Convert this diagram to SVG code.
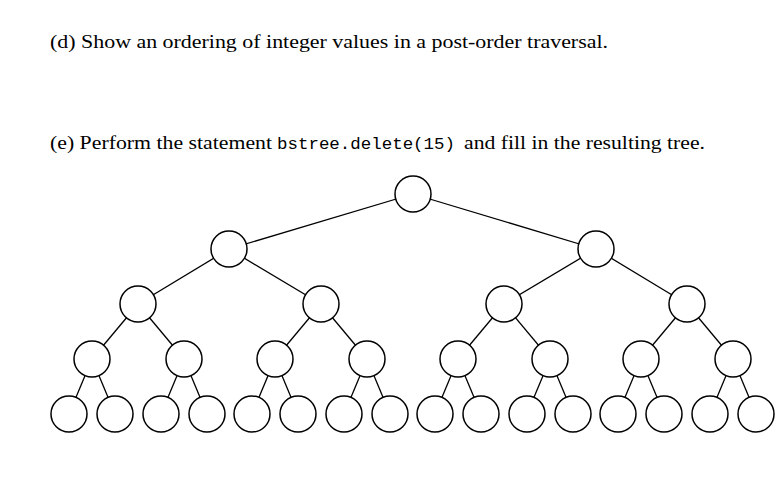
<svg xmlns="http://www.w3.org/2000/svg" width="784" height="477" viewBox="0 0 784 477">
<style>
.t{font-family:"Liberation Serif","Times New Roman",serif;font-size:18px;fill:#000}
.m{font-family:"Liberation Mono",monospace;font-size:17px}
.e line{stroke:#000;stroke-width:1.3}
circle{fill:#fff;stroke:#000;stroke-width:1.5}
</style>
<rect width="784" height="477" fill="#fff"/>
<text class="t" x="50" y="48" textLength="558" lengthAdjust="spacingAndGlyphs">(d) Show an ordering of integer values in a post-order traversal.</text>
<text class="t" x="50" y="149"><tspan textLength="222" lengthAdjust="spacingAndGlyphs">(e) Perform the statement</tspan><tspan class="m" x="277" textLength="178" lengthAdjust="spacingAndGlyphs">bstree.delete(15)</tspan><tspan x="464" textLength="241" lengthAdjust="spacingAndGlyphs">and fill in the resulting tree.</tspan></text>
<g class="e" id="edges">
<line x1="413" y1="194" x2="229" y2="249"/><line x1="413" y1="194" x2="596" y2="249"/>
<line x1="229" y1="249" x2="138" y2="304"/><line x1="229" y1="249" x2="321" y2="304"/>
<line x1="596" y1="249" x2="504" y2="304"/><line x1="596" y1="249" x2="687" y2="304"/>
<line x1="138" y1="304" x2="92" y2="359"/><line x1="138" y1="304" x2="184" y2="359"/>
<line x1="321" y1="304" x2="275" y2="359"/><line x1="321" y1="304" x2="367" y2="359"/>
<line x1="504" y1="304" x2="458" y2="359"/><line x1="504" y1="304" x2="550" y2="359"/>
<line x1="687" y1="304" x2="641" y2="359"/><line x1="687" y1="304" x2="733" y2="359"/>
<line x1="92" y1="359" x2="69" y2="414"/><line x1="92" y1="359" x2="115" y2="414"/>
<line x1="184" y1="359" x2="161" y2="414"/><line x1="184" y1="359" x2="207" y2="414"/>
<line x1="275" y1="359" x2="252" y2="414"/><line x1="275" y1="359" x2="298" y2="414"/>
<line x1="367" y1="359" x2="344" y2="414"/><line x1="367" y1="359" x2="390" y2="414"/>
<line x1="458" y1="359" x2="435" y2="414"/><line x1="458" y1="359" x2="481" y2="414"/>
<line x1="550" y1="359" x2="527" y2="414"/><line x1="550" y1="359" x2="573" y2="414"/>
<line x1="641" y1="359" x2="618" y2="414"/><line x1="641" y1="359" x2="664" y2="414"/>
<line x1="733" y1="359" x2="710" y2="414"/><line x1="733" y1="359" x2="756" y2="414"/>
</g>
<g id="n0"><circle cx="413" cy="194" r="18"/></g>
<g id="n1"><circle cx="229" cy="249" r="18"/></g>
<g id="n2"><circle cx="596" cy="249" r="18"/></g>
<g id="n3"><circle cx="138" cy="304" r="18"/></g>
<g id="n4"><circle cx="321" cy="304" r="18"/></g>
<g id="n5"><circle cx="504" cy="304" r="18"/></g>
<g id="n6"><circle cx="687" cy="304" r="18"/></g>
<g id="n7"><circle cx="92" cy="359" r="18"/></g>
<g id="n8"><circle cx="184" cy="359" r="18"/></g>
<g id="n9"><circle cx="275" cy="359" r="18"/></g>
<g id="n10"><circle cx="367" cy="359" r="18"/></g>
<g id="n11"><circle cx="458" cy="359" r="18"/></g>
<g id="n12"><circle cx="550" cy="359" r="18"/></g>
<g id="n13"><circle cx="641" cy="359" r="18"/></g>
<g id="n14"><circle cx="733" cy="359" r="18"/></g>
<g id="n15"><circle cx="69" cy="414" r="18"/></g>
<g id="n16"><circle cx="115" cy="414" r="18"/></g>
<g id="n17"><circle cx="161" cy="414" r="18"/></g>
<g id="n18"><circle cx="207" cy="414" r="18"/></g>
<g id="n19"><circle cx="252" cy="414" r="18"/></g>
<g id="n20"><circle cx="298" cy="414" r="18"/></g>
<g id="n21"><circle cx="344" cy="414" r="18"/></g>
<g id="n22"><circle cx="390" cy="414" r="18"/></g>
<g id="n23"><circle cx="435" cy="414" r="18"/></g>
<g id="n24"><circle cx="481" cy="414" r="18"/></g>
<g id="n25"><circle cx="527" cy="414" r="18"/></g>
<g id="n26"><circle cx="573" cy="414" r="18"/></g>
<g id="n27"><circle cx="618" cy="414" r="18"/></g>
<g id="n28"><circle cx="664" cy="414" r="18"/></g>
<g id="n29"><circle cx="710" cy="414" r="18"/></g>
<g id="n30"><circle cx="756" cy="414" r="18"/></g>
</svg>
